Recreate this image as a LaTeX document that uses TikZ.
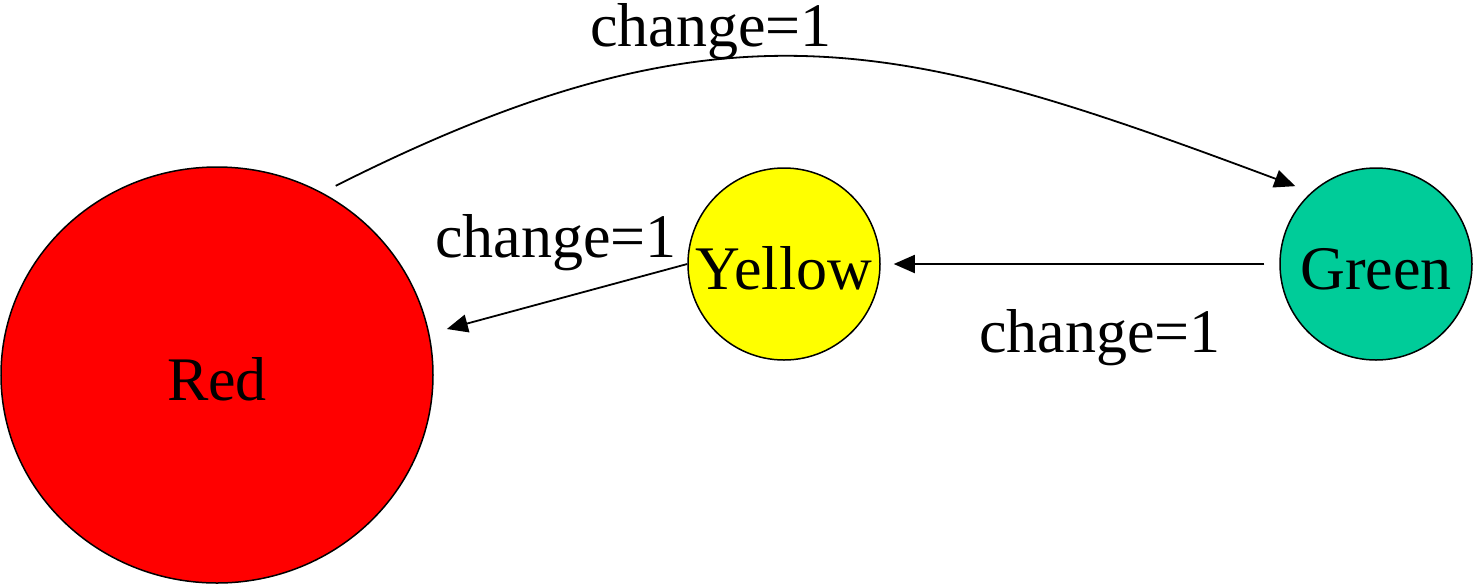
\documentclass[tikz,border=0pt]{standalone}
\usepackage{fontspec}
\setmainfont{Liberation Serif}
\usetikzlibrary{arrows.meta,shapes.geometric}
\definecolor{cred}{RGB}{255,0,0}
\definecolor{cyellow}{RGB}{255,255,0}
\definecolor{cgreen}{RGB}{0,204,153}
\begin{document}
\begin{tikzpicture}[x={(0.5pt,0)},y={(0,-0.5pt)},
  every node/.style={font=\fontsize{31}{37}\selectfont},
  state/.style={draw=black,line width=0.75pt,inner sep=0pt,text height=25pt,text depth=0pt},
  conn/.style={draw=black,line width=0.9pt,-{Triangle[length=10.5pt,width=9pt]}},
  lbl/.style={anchor=base,inner sep=0pt}]
\useasboundingbox (0,0) rectangle (1473,585);
\node[state,ellipse,fill=cred,minimum width=216pt,minimum height=208pt] (red) at (217,375) {Red};
\node[state,circle,fill=cyellow,minimum size=96pt] (yellow) at (784,264) {Yellow};
\node[state,circle,fill=cgreen,minimum size=96pt] (green) at (1376,264) {Green};
\draw[conn,shorten <=7.5pt,shorten >=8.5pt] (red.60) .. controls +(405,-204) and +(-407,-152) .. (green.132);
\draw[conn,shorten <=7.5pt,shorten >=6.5pt] (green.west) -- (yellow.east);
\draw[conn,shorten >=9pt] (yellow.west) -- (red.11);
\node[lbl] (l1) at (711,46) {change=1};
\node[lbl] (l2) at (556,257) {change=1};
\node[lbl] (l3) at (1100,352) {change=1};
\end{tikzpicture}
\end{document}
